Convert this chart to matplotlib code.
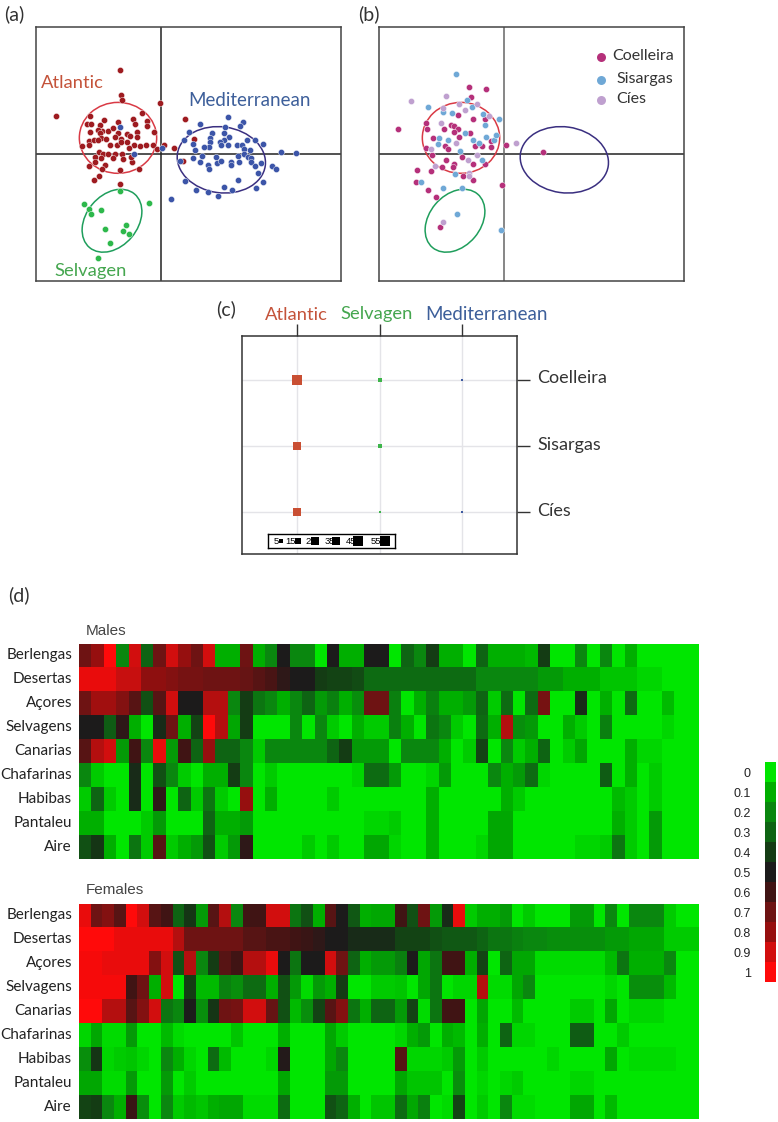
import numpy as np
import matplotlib
matplotlib.use('Agg')
import matplotlib.pyplot as plt
from matplotlib.colors import LinearSegmentedColormap
from matplotlib.patches import Ellipse

W, H = 778, 1122
plt.rcParams['font.family'] = ['Lato', 'DejaVu Sans']

# scatter values, digitised (scale: cross of panel a sits at 422, 462)
atlantic = [(298,208),(303,284),(305,299),(418,309),(108,346),(208,346),(200,370),(212,370),(250,360),(293,365),
            (337,357),(366,337),(381,363),(344,371),(381,378),(240,375),(245,392),(263,392),(279,383),(232,390),
            (208,395),(238,397),(293,398),(320,400),(350,396),(400,394),(285,411),(303,415),(330,407),(350,410),
            (243,413),(258,415),(207,423),(220,420),(185,436),(205,435),(233,420),(270,435),(290,433),(303,425),
            (320,425),(340,435),(358,436),(376,433),(397,435),(325,444),(410,447),(432,435),(461,443),(494,355),
            (521,415),(237,454),(225,470),(248,462),(262,462),(285,461),(305,463),(278,475),(243,475),(225,485),
            (255,495),(205,498),(308,478),(334,487),(356,507),(245,507),(298,510),(235,527),(222,540),(300,552),
            (487,482),(333,471)]
mediterranean = [(623,349),(668,366),(660,378),(539,370),(615,379),(505,395),(575,398),(610,398),(568,412),(625,410),
                 (490,420),(518,430),(610,418),(600,425),(568,425),(565,440),(550,440),(603,435),(623,433),(650,435),
                 (665,435),(680,420),(703,418),(727,430),(690,450),(523,450),(672,445),(670,462),(652,467),(545,467),
                 (588,470),(518,475),(478,483),(540,487),(563,495),(567,506),(590,490),(603,483),(632,485),(655,486),
                 (682,472),(692,475),(693,486),(703,497),(722,490),(633,495),(755,497),(766,508),(714,520),(729,547),
                 (708,564),(654,541),(612,560),(636,569),(593,587),(562,575),(528,569),(493,542),(451,598),(783,455),
                 (828,457),(425,443),(340,460),(300,381)]
selvagen = [(298,573),(190,612),(207,626),(241,629),(211,642),(385,610),(318,675),(255,688),(309,692),(326,701),
            (269,730),(232,773)]

# panel b, cross at 405, 461
coelleira = [(301,258),(352,264),(306,289),(268,342),(313,354),(347,355),(172,366),(174,384),(88,385),(225,384),
             (245,372),(254,376),(267,385),(270,410),(302,398),(255,395),(193,413),(228,437),(236,446),(171,441),
             (319,437),(338,437),(365,438),(411,433),(521,453),(189,465),(278,471),(232,479),(313,490),(347,491),
             (256,490),(252,499),(220,500),(187,512),(144,510),(283,526),(311,539),(142,545),(177,569),(202,590),
             (398,555),(214,680),(365,420)]
sisargas = [(262,219),(294,299),(309,318),(178,320),(222,334),(250,337),(343,341),(390,354),(348,374),(288,398),
            (209,412),(236,417),(208,429),(311,418),(329,426),(352,408),(374,417),(380,404),(273,450),(340,478),
            (257,520),(155,544),(222,562),(279,564),(265,641),(397,688)]
cies = [(127,300),(231,286),(323,309),(270,311),(289,327),(222,323),(360,346),(217,368),(261,428),(186,445),
        (442,426),(325,464),(296,479),(197,496),(300,518),(300,527),(222,665)]

# panel c
groups = ['Atlantic', 'Selvagen', 'Mediterranean']
colonies = ['Coelleira', 'Sisargas', 'Cíes']
assign_counts = [[55, 8, 3], [30, 10, 0], [24, 3, 3]]
size_scale = [5, 15, 25, 35, 45, 55]

# panel d, values in hundredths
sites = ['Berlengas', 'Desertas', 'Açores', 'Selvagens', 'Canarias', 'Chafarinas', 'Habibas', 'Pantaleu', 'Aire']
males = [
    [70,80,100,20,90,30,70,90,80,70,90,10,10,70,10,20,50,20,20,0,50,10,10,50,50,0,30,20,40,10,10,0,30,10,10,10,8,40,0,0,20,0,20,0,10,0,0,0,0,0],
    [95,95,95,88,88,78,78,75,72,72,70,70,70,68,65,62,55,50,50,40,38,38,36,28,28,28,28,28,28,28,28,28,20,20,20,20,20,15,15,10,10,10,6,6,6,3,3,0,0,0],
    [70,82,82,75,65,35,65,90,50,50,85,85,20,40,25,20,10,20,30,15,22,10,18,70,70,22,0,10,22,10,10,15,30,5,28,0,28,72,0,0,45,0,10,0,28,0,0,8,0,0],
    [50,50,32,55,10,0,45,70,10,38,100,85,12,40,0,0,0,20,0,20,5,0,10,5,5,22,10,0,25,20,5,0,28,10,85,18,15,0,0,10,5,0,22,0,0,0,0,3,0,0],
    [65,85,90,15,60,20,95,15,60,30,80,30,30,20,5,20,20,20,20,20,30,40,15,15,15,0,20,20,20,10,0,5,38,0,20,5,10,30,0,5,12,0,0,0,10,3,3,0,0,0],
    [20,5,0,0,45,0,35,20,5,0,10,10,40,20,0,5,0,0,0,0,0,0,3,28,28,15,0,0,3,15,0,0,0,20,10,15,28,3,0,0,0,0,32,0,10,0,5,0,0,0],
    [5,30,5,0,45,0,55,0,30,5,25,5,0,80,0,10,0,0,0,0,5,0,0,0,0,0,0,0,10,0,0,0,0,0,10,5,0,0,0,0,0,0,0,8,5,0,5,0,0,0],
    [10,10,0,0,0,5,15,0,0,0,30,10,10,15,0,0,0,0,0,0,0,0,0,3,3,5,0,0,10,0,0,0,0,12,12,0,0,0,0,0,0,0,0,10,5,0,15,0,0,0],
    [35,42,10,0,25,5,65,5,10,15,35,5,15,55,0,0,0,0,5,0,5,0,0,12,12,3,0,0,10,0,0,0,3,12,12,0,0,0,0,0,3,3,5,25,5,0,15,0,0,0],
]
females = [
    [95,70,75,65,100,90,65,60,30,42,15,65,85,20,60,60,90,90,25,35,10,65,50,33,10,12,12,60,35,70,15,45,95,5,10,10,15,0,5,0,0,0,15,15,0,20,0,20,20,20,5,0,0],
    [100,100,100,95,95,95,95,95,85,70,70,70,70,70,65,65,62,62,60,58,55,50,50,45,45,45,45,38,38,38,35,33,33,33,30,25,25,22,20,20,18,18,18,18,18,15,15,12,12,12,5,5,5],
    [98,98,95,95,95,95,75,90,35,85,20,40,65,60,85,85,95,50,25,50,50,90,70,30,10,15,15,22,50,12,25,60,60,10,38,0,30,12,12,2,2,2,2,2,2,8,25,10,10,10,20,0,0],
    [98,98,98,98,60,70,10,90,0,40,8,8,22,18,28,28,10,35,15,2,15,10,40,0,0,5,5,6,0,12,25,0,3,3,85,2,2,12,20,0,0,0,0,0,0,3,0,18,18,18,8,0,0],
    [100,100,85,85,65,75,90,25,20,50,18,42,70,72,90,90,68,35,8,18,38,65,75,25,10,30,30,15,38,2,25,60,60,0,12,0,0,8,0,0,0,0,5,5,0,12,0,3,3,3,0,0,0],
    [3,12,2,2,15,0,0,8,2,0,0,0,0,6,0,0,0,10,0,0,0,12,5,0,0,0,0,3,10,15,0,10,8,0,10,0,30,3,3,0,0,0,32,32,0,0,5,0,0,0,0,0,0],
    [18,42,3,5,6,3,0,20,10,3,0,28,8,0,0,0,3,52,0,0,0,12,20,0,0,0,0,65,3,3,3,5,15,0,5,0,0,0,0,0,3,0,0,0,0,12,0,2,2,2,2,0,0],
    [12,12,2,2,15,0,0,15,0,5,0,0,0,0,0,0,0,12,0,0,0,15,15,0,0,0,0,12,6,6,6,0,18,0,3,0,3,5,0,0,0,0,3,3,0,0,0,0,0,0,0,0,0],
    [38,40,20,10,58,18,0,20,5,8,6,10,12,12,2,2,2,28,0,0,0,35,30,10,0,6,6,28,12,22,0,2,38,0,5,0,20,2,2,0,0,0,12,12,0,8,0,0,0,0,0,0,0],
]
scale_levels = [0, 0.1, 0.2, 0.3, 0.4, 0.5, 0.6, 0.7, 0.8, 0.9, 1]
scale_labels = ['0', '0.1', '0.2', '0.3', '0.4', '0.5', '0.6', '0.7', '0.8', '0.9', '1']

red_c = '#C4533A'
green_c = '#45A64F'
blue_c = '#3D5F9A'
cmap = LinearSegmentedColormap.from_list('gbr', ['#00E600', '#00AE00', '#0A870F', '#0F6414', '#143C14', '#1C1C1C',
                                                 '#411414', '#6E1414', '#960F0F', '#D20F0F', '#FF0A0A'])

fig = plt.figure(figsize=(W / 100, H / 100), dpi=100)


def px_axes(x0, y0, x1, y1):
    return fig.add_axes([x0 / W, 1 - y1 / H, (x1 - x0) / W, (y1 - y0) / H])


def label(x, y, s, **kw):
    kw.setdefault('fontsize', 12)
    kw.setdefault('color', '#333333')
    kw.setdefault('va', 'center')
    fig.text(x / W, 1 - y / H, s, **kw)


def dots(ax, pts, color, s=20):
    pts = np.array(pts)
    ax.scatter(pts[:, 0], pts[:, 1], s=s, color=color, edgecolors='white', linewidths=0.3, zorder=3)


def pca_box(box, cx, cy, vcolor):
    ax = px_axes(*box)
    x0 = cx - 375
    ax.set_xlim(x0, x0 + 915)
    ax.set_ylim(cy + 381, cy - 382)
    ax.set_xticks([])
    ax.set_yticks([])
    for sp in ax.spines.values():
        sp.set_color('#444444')
        sp.set_linewidth(1.1)
    ax.axhline(cy, color='#222222', lw=1.1, zorder=1)
    ax.axvline(cx, color=vcolor, lw=1.1, zorder=1)
    for dx, dy, w, h, ang, col in [(-129, -49, 232, 213, 0, '#D93A45'),
                                   (181, 17, 266, 198, 8, '#3A2F80'),
                                   (-147, 200, 210, 154, -50, '#1F9E5C')]:
        ax.add_patch(Ellipse((cx + dx, cy + dy), w, h, angle=ang, fill=False, edgecolor=col, lw=1.1, zorder=2))
    return ax


# (a)
ax_a = pca_box((36, 27, 341, 281), 422, 462, '#222222')
dots(ax_a, atlantic, '#9E1B20')
dots(ax_a, mediterranean, '#3C55A8')
dots(ax_a, selvagen, '#2DB84B')
label(41, 83, 'Atlantic', color=red_c, fontsize=13.2)
label(188, 101, 'Mediterranean', color=blue_c, fontsize=13.5)
label(54, 271, 'Selvagen', color=green_c, fontsize=13.2)
label(4, 14, '(a)', fontsize=14)

# (b)
ax_b = pca_box((379, 27, 684, 281), 405, 461, '#666666')
dots(ax_b, coelleira, '#B5307A')
dots(ax_b, sisargas, '#6FA8D6')
dots(ax_b, cies, '#BFA0CF')
for yy, col, name, xx in [(56, '#B5307A', colonies[0], 612), (79, '#6FA8D6', colonies[1], 616), (99, '#BFA0CF', colonies[2], 616)]:
    ax_b.scatter([695], [yy * 3], s=42, color=col, linewidths=0, clip_on=False)
    label(xx, yy, name, fontsize=11.5)
label(358, 14, '(b)', fontsize=14)

# (c)
ax_c = px_axes(242.3, 336.3, 517, 554.3)
ax_c.set_xlim(0.333, 3.663)
ax_c.set_ylim(2.636, -0.652)
ax_c.grid(color='#E4E4E8', lw=1)
ax_c.set_axisbelow(True)
ax_c.set_xticks([1, 2, 3], [])
ax_c.set_yticks([0, 1, 2], [])
ax_c.xaxis.tick_top()
ax_c.yaxis.tick_right()
ax_c.tick_params(length=9, width=1, color='#333333')
for sp in ax_c.spines.values():
    sp.set_color('#333333')
    sp.set_linewidth(1.1)
for j, col in enumerate(['#C94F33', '#3DB54A', '#3D5AA0']):
    for i in range(3):
        if assign_counts[i][j] > 0:
            ax_c.scatter(j + 1, i, s=assign_counts[i][j] * 1.09, marker='s', color=col, linewidths=0, zorder=3)
label(265, 315, groups[0], color=red_c, fontsize=13.2)
label(340, 314, groups[1], color=green_c, fontsize=13.2)
label(425, 315, groups[2], color=blue_c, fontsize=13.5)
for name, yy in zip(colonies, [378, 445, 511]):
    label(537, yy, name, fontsize=13)
label(216, 309, '(c)', fontsize=14)

# legend of panel c
ax_k = px_axes(268.3, 534.3, 395.3, 547.7)
ax_k.set_xlim(0, 127)
ax_k.set_ylim(0, 13.4)
ax_k.set_xticks([])
ax_k.set_yticks([])
for sp in ax_k.spines.values():
    sp.set_linewidth(1)
for v, xt, xm in zip(size_scale, [5, 17, 37.5, 56.5, 78, 102], [12.5, 29.5, 47, 68, 89.5, 117]):
    ax_k.text(xt, 6.7, str(v), fontsize=6.8, family='Liberation Sans', ha='left', va='center', color='black')
    ax_k.scatter(xm, 6.7, s=v * 1.09, marker='s', color='black', linewidths=0)

# (d)
label(8, 595, '(d)', fontsize=14)
for data, y0, y1, title, ty in [(males, 643.5, 859, 'Males', 631), (females, 903.5, 1119, 'Females', 890)]:
    ax = px_axes(79, y0, 699, y1)
    ax.imshow(np.array(data) / 100, cmap=cmap, vmin=0, vmax=1, aspect='auto', interpolation='nearest')
    ax.axis('off')
    label(86, ty, title, fontsize=11, family='Liberation Sans', color='#444444')
    for i, name in enumerate(sites):
        label(72, y0 + 12 + i * 23.95, name, fontsize=11, ha='right', color='#222222')

# colour scale
ax_s = px_axes(765, 761.7, 775.7, 981.7)
ax_s.imshow(np.array(scale_levels).reshape(-1, 1), cmap=cmap, vmin=0, vmax=1, aspect='auto', interpolation='nearest')
ax_s.axis('off')
for i, name in enumerate(scale_labels):
    label(751, 774 + i * 20, name, fontsize=9, ha='right', color='#222222',
          family=['Liberation Sans Narrow', 'Liberation Sans'])

fig.savefig('out.png', dpi=100)
